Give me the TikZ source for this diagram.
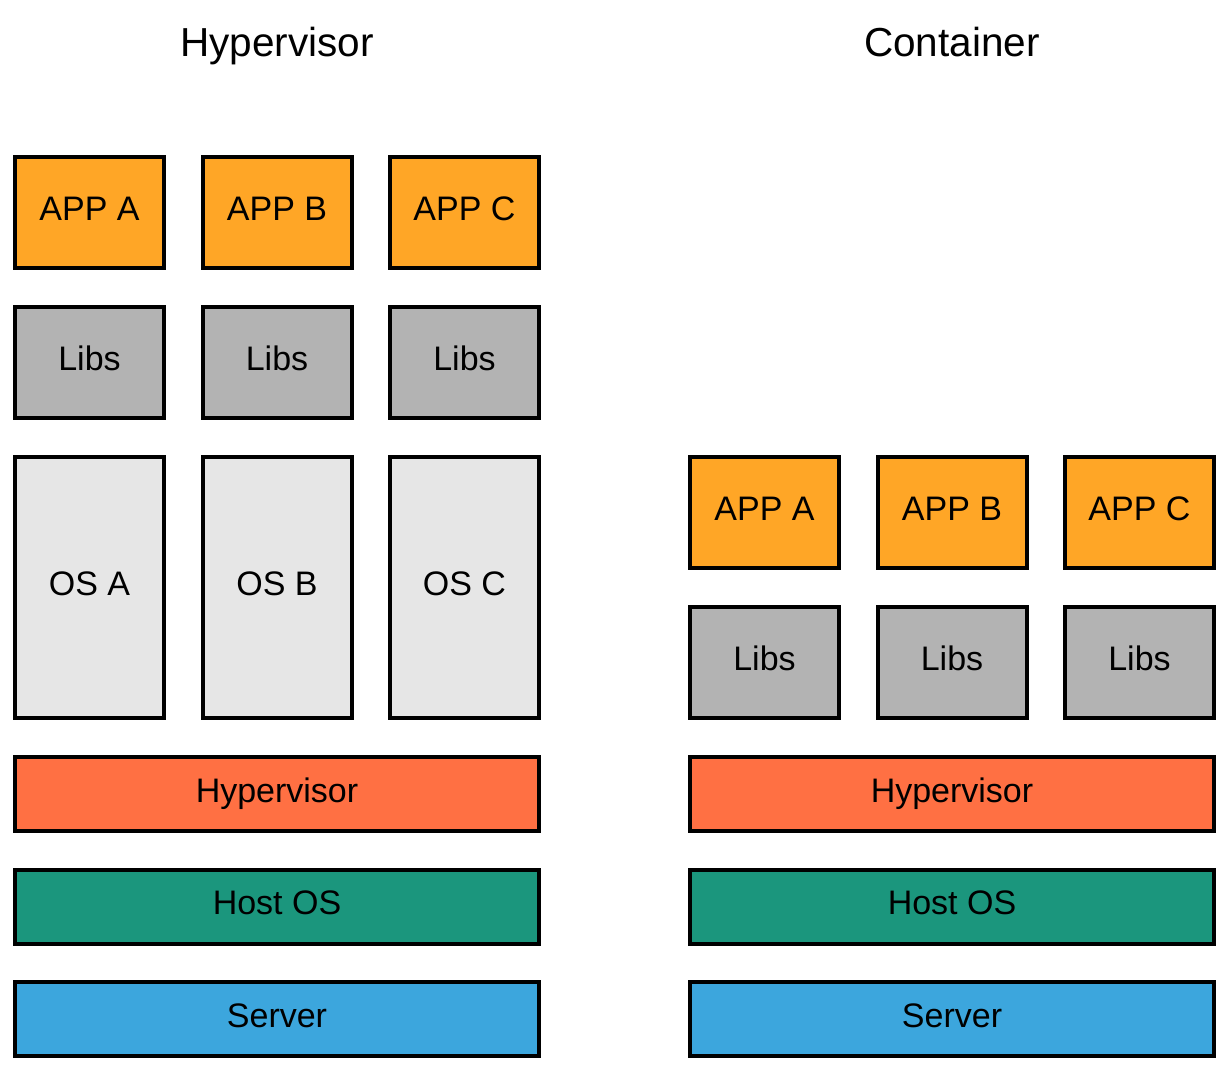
\documentclass[tikz,border=0pt]{standalone}
\usepackage{fontspec}
\setmainfont{Liberation Sans}
\definecolor{apporange}{RGB}{255,166,38}
\definecolor{libgray}{RGB}{179,179,179}
\definecolor{osgray}{RGB}{230,230,230}
\definecolor{hypcoral}{RGB}{255,112,67}
\definecolor{hostteal}{RGB}{27,150,125}
\definecolor{servblue}{RGB}{60,166,221}
\begin{document}
\begin{tikzpicture}[x=1pt,y=-1pt,
  blk/.style={draw=black,line width=4pt,rectangle,inner sep=0pt,outer sep=0pt,
    font=\fontsize{34}{40}\selectfont,text height=24pt,text depth=8pt},
  small/.style={blk,minimum width=149pt,minimum height=111pt},
  tall/.style={blk,minimum width=149pt,minimum height=261pt},
  wide/.style={blk,minimum width=524pt,minimum height=74pt},
  ttl/.style={anchor=base,font=\fontsize{40.5}{46}\selectfont,inner sep=0pt}]
\useasboundingbox (0,0) rectangle (1228,1074);
% titles
\node[ttl] (t1) at (277,56) {Hypervisor};
\node[ttl] (t2) at (952,56) {Container};
% left stack
\node[small,fill=apporange] (la) at (89.5,212.5) {APP A};
\node[small,fill=apporange] (lb) at (277,212.5) {APP B};
\node[small,fill=apporange] (lc) at (464.5,212.5) {APP C};
\node[small,fill=libgray] (lla) at (89.5,362.5) {Libs};
\node[small,fill=libgray] (llb) at (277,362.5) {Libs};
\node[small,fill=libgray] (llc) at (464.5,362.5) {Libs};
\node[tall,fill=osgray] (loa) at (89.5,587.5) {OS A};
\node[tall,fill=osgray] (lob) at (277,587.5) {OS B};
\node[tall,fill=osgray] (loc) at (464.5,587.5) {OS C};
\node[wide,fill=hypcoral] (lh) at (277,794) {Hypervisor};
\node[wide,fill=hostteal] (lho) at (277,906.5) {Host OS};
\node[wide,fill=servblue] (ls) at (277,1019) {Server};
% right stack
\node[small,fill=apporange] (ra) at (764.5,512.5) {APP A};
\node[small,fill=apporange] (rb) at (952,512.5) {APP B};
\node[small,fill=apporange] (rc) at (1139.5,512.5) {APP C};
\node[small,fill=libgray] (rla) at (764.5,662.5) {Libs};
\node[small,fill=libgray] (rlb) at (952,662.5) {Libs};
\node[small,fill=libgray] (rlc) at (1139.5,662.5) {Libs};
\node[wide,fill=hypcoral] (rh) at (952,794) {Hypervisor};
\node[wide,fill=hostteal] (rho) at (952,906.5) {Host OS};
\node[wide,fill=servblue] (rs) at (952,1019) {Server};
\end{tikzpicture}
\end{document}
